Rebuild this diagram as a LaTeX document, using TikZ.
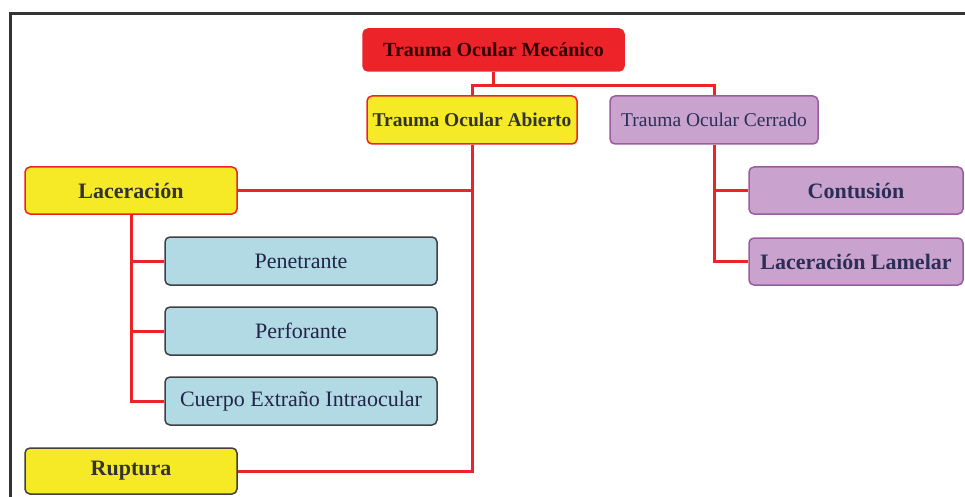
\documentclass[tikz,border=0pt]{standalone}
\usepackage{fontspec}
\setmainfont{Liberation Serif}
\usepackage{xcolor}
\usepackage{tikz}
\usetikzlibrary{positioning}

\definecolor{rojo}{HTML}{EC2429}
\definecolor{amarillo}{HTML}{F6E926}
\definecolor{lila}{HTML}{C9A3CD}
\definecolor{lilaborde}{HTML}{9A5C9E}
\definecolor{celeste}{HTML}{B2DAE5}
\definecolor{azuloscuro}{HTML}{2C2E58}

\tikzset{
  box/.style={rounded corners=5pt, line width=1.5pt, inner sep=0pt, align=center},
  rootbox/.style={box, fill=rojo, draw=rojo, text=black!80!red, font=\fontsize{20}{22}\selectfont\bfseries},
  openbox/.style={box, fill=amarillo, draw=rojo, text=black!80, font=\fontsize{19.5}{22}\selectfont\bfseries},
  closedbox/.style={box, fill=lila, draw=lilaborde, text=azuloscuro, font=\fontsize{19.5}{22}\selectfont\bfseries},
  typebox/.style={box, fill=celeste, draw=black!75, text=azuloscuro!80!black, font=\fontsize{22}{24}\selectfont},
  bigtext/.style={font=\fontsize{22}{24}\selectfont\bfseries},
  link/.style={draw=rojo, line width=3pt},
}

\begin{document}
\begin{tikzpicture}[x=1pt, y=-1pt]
   \useasboundingbox (0,0) rectangle (965,497);
   % Frame
   \draw[black!80, line width=3pt] (10,497) -- (10,14) -- (965,14);

   % Top levels
   \node[rootbox, minimum width=261, minimum height=42] (root) at (493.5,50) {Trauma Ocular Mecánico};
   \node[openbox, minimum width=210, minimum height=48] (abierto) at (472,120) {Trauma Ocular Abierto};
   \node[closedbox, minimum width=208, minimum height=48] (cerrado) at (714,120) {\mdseries Trauma Ocular Cerrado};

   % Open trauma
   \node[openbox, bigtext, minimum width=212, minimum height=47] (laceracion) at (131,190.5) {Laceración};
   \node[openbox, bigtext, draw=black!75, minimum width=212, minimum height=46] (ruptura) at (131,471) {Ruptura};
   \node[typebox, minimum width=272, minimum height=48] (penetrante) at (301,261) {Penetrante};
   \node[typebox, minimum width=272, minimum height=48] (perforante) at (301,331) {Perforante};
   \node[typebox, minimum width=272, minimum height=48] (cuerpo) at (301,401) {Cuerpo Extraño Intraocular};

   % Closed trauma
   \node[closedbox, bigtext, minimum width=214, minimum height=47] (contusion) at (856,190.5) {Contusión};
   \node[closedbox, bigtext, minimum width=214, minimum height=47] (lamelar) at (856,261.5) {Laceración Lamelar};

   % Connectors
   \draw[link] (root.south) -- ++(0,15);
   \draw[link] (abierto.north) -- ++(0,-10) -| (cerrado.north);
   \draw[link] (laceracion.east) -| (abierto.south);
   \draw[link] (abierto.south) |- (ruptura.east);
   \draw[link] (laceracion.south) |- (penetrante.west);
   \draw[link] (laceracion.south) |- (perforante.west);
   \draw[link] (laceracion.south) |- (cuerpo.west);
   \draw[link] (cerrado.south) |- (contusion.west);
   \draw[link] (cerrado.south) |- (lamelar.west);
\end{tikzpicture}
\end{document}
